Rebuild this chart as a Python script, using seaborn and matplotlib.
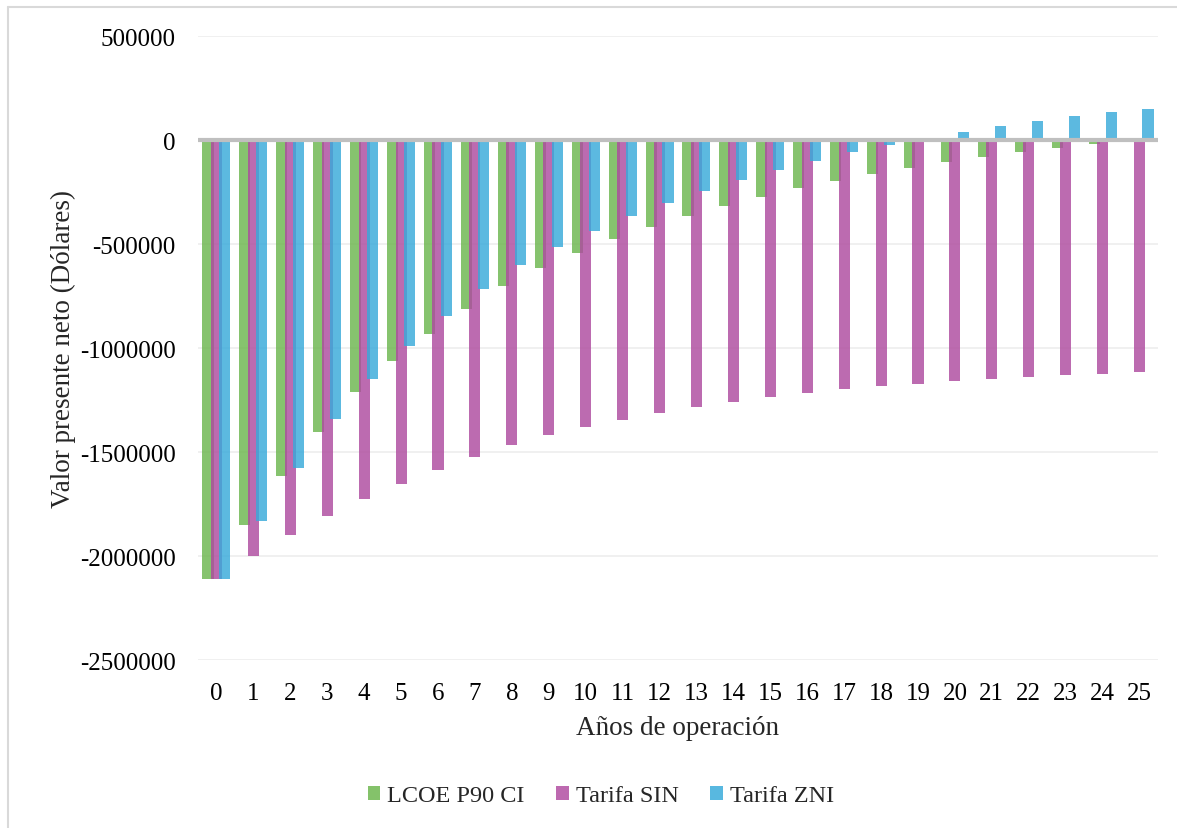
import numpy as np
import pandas as pd
import matplotlib
matplotlib.use("Agg")
import matplotlib.pyplot as plt
from matplotlib.lines import Line2D
from matplotlib.patches import Patch
import seaborn as sns

# Net present value per year of operation (USD)
years = list(range(26))
lcoe_p90_ci = [-2110000, -1851000, -1617000, -1405000, -1212000, -1064000,
               -933000, -812000, -702000, -614000, -543000, -478000,
               -418000, -367000, -317000, -272000, -232000, -195000,
               -162000, -133000, -104000, -80000, -56000, -37000,
               -18000, 0]
tarifa_sin = [-2110000, -1998000, -1901000, -1809000, -1728000, -1654000,
              -1585000, -1522000, -1466000, -1418000, -1380000, -1346000,
              -1314000, -1285000, -1258000, -1236000, -1215000, -1198000,
              -1185000, -1172000, -1161000, -1149000, -1139000, -1130000,
              -1123000, -1115000]
tarifa_zni = [-2110000, -1830000, -1575000, -1343000, -1151000, -992000,
              -848000, -716000, -599000, -513000, -436000, -365000,
              -301000, -245000, -192000, -143000, -99000, -59000,
              -22000, 8000, 37000, 66000, 90000, 114000, 133000, 151000]

series = ["LCOE P90 CI", "Tarifa SIN", "Tarifa ZNI"]
values = [lcoe_p90_ci, tarifa_sin, tarifa_zni]
colors = ["#6CB64E", "#AE4B9F", "#38AADA"]
swatch = ["#84C26A", "#BD69B0", "#58B8E0"]

sns.set_theme(style="white")
plt.rcParams["font.family"] = ["Liberation Serif", "DejaVu Serif"]

fig = plt.figure(figsize=(11.77, 8.29), dpi=100)
ax = fig.add_axes([198 / 1177, 1 - 661 / 829, 960 / 1177, 624 / 829])

# three overlapping bars per year, drawn left to right
bar_w = 0.30
step = 0.23
for i, (name, vals, col) in enumerate(zip(series, values, colors)):
    df = pd.DataFrame({"x": np.array(years) + (i - 1) * step, "y": vals})
    sns.barplot(data=df, x="x", y="y", native_scale=True, width=bar_w,
                color=col, alpha=0.82, linewidth=0, saturation=1,
                errorbar=None, ax=ax, zorder=3)

yt = np.arange(-2500000, 500001, 500000)
ax.set_xlim(-0.5, 25.5)
ax.set_ylim(-2500000, 500000)
ax.set_yticks(yt)
ax.set_yticklabels([f"{int(v)}" for v in yt])
ax.set_xticks(years)
ax.set_xticklabels([str(y) for y in years])

ax.grid(axis="y", color="#EDEDED", linewidth=1.2, zorder=0)
ax.grid(axis="x", visible=False)
ax.axhline(0, color="#BFBFBF", linewidth=3, zorder=4)
for s in ax.spines.values():
    s.set_visible(False)
ax.tick_params(axis="both", length=0, labelsize=18, colors="#000000")
ax.tick_params(axis="y", pad=16)
ax.tick_params(axis="x", pad=16)

ax.set_xlabel("Años de operación", fontsize=19.5, labelpad=8)
ax.set_ylabel("Valor presente neto (Dólares)", fontsize=19.5)
ax.yaxis.set_label_coords(-0.127, 0.5)

handles = [Patch(facecolor=c, edgecolor="none") for c in swatch]
fig.legend(handles, series, loc="center", bbox_to_anchor=(601 / 1177, 1 - 797 / 829),
           ncol=3, frameon=False, fontsize=17.5, handlelength=0.5,
           handleheight=0.5, handletextpad=0.3, columnspacing=1.3)

# chart-area frame
fig.add_artist(Line2D([8 / 1177, 8 / 1177], [0, 1 - 8 / 829], color="#D9D9D9",
                      linewidth=1.5, transform=fig.transFigure))
fig.add_artist(Line2D([8 / 1177, 1], [1 - 8 / 829, 1 - 8 / 829], color="#D9D9D9",
                      linewidth=1.5, transform=fig.transFigure))

fig.savefig("out.png", dpi=100)
